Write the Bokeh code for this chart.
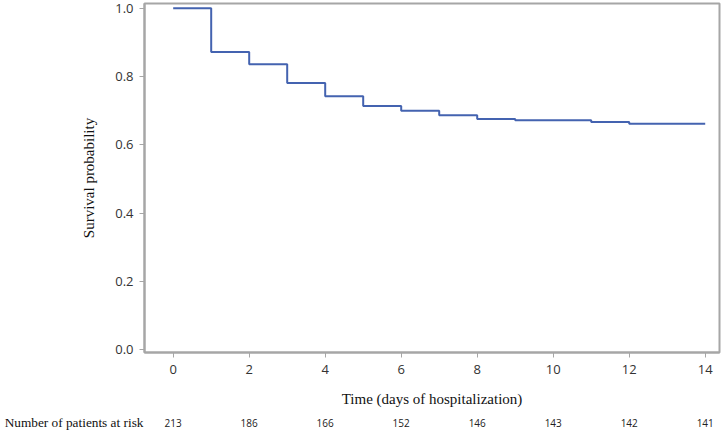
from bokeh.plotting import figure
from bokeh.models import Range1d, FixedTicker
from bokeh.layouts import column
from bokeh.core.properties import value
from bokeh.embed import file_html
from bokeh.resources import INLINE

# Kaplan-Meier step data
days = [0, 1, 2, 3, 4, 5, 6, 7, 8, 9, 11, 12, 14]
survival = [1.0, 0.872, 0.836, 0.781, 0.742, 0.714, 0.700, 0.687, 0.676, 0.672, 0.667, 0.662, 0.662]

# Number at risk table
risk_days = [0, 2, 4, 6, 8, 10, 12, 14]
at_risk = ["213", "186", "166", "152", "146", "143", "142", "141"]
risk_title = "Number of patients at risk"

x_ticks = [0, 2, 4, 6, 8, 10, 12, 14]
y_ticks = [0.0, 0.2, 0.4, 0.6, 0.8, 1.0]

AX = "#a6a6a6"
TXT = "#333333"

xr = Range1d(-0.755, 14.376)

p = figure(width=722, height=414, output_backend="svg", toolbar_location=None,
           x_range=xr, y_range=Range1d(-0.0075, 1.0137),
           min_border_left=144, min_border_right=3, min_border_top=3, min_border_bottom=62)

p.step(days, survival, mode="after", line_color="#4463b0", line_width=2)

p.xgrid.visible = False
p.ygrid.visible = False
p.outline_line_color = AX
p.outline_line_width = 2

for ax in (p.xaxis[0], p.yaxis[0]):
    ax.axis_line_color = AX
    ax.axis_line_width = 2
    ax.major_tick_line_color = AX
    ax.major_tick_line_width = 1
    ax.major_tick_in = 0
    ax.major_tick_out = 5
    ax.minor_tick_line_color = None
    ax.major_label_text_font = "Open Sans"
    ax.major_label_text_font_size = "13px"
    ax.major_label_text_color = TXT
    ax.axis_label_text_font = "Liberation Serif"
    ax.axis_label_text_font_size = "15px"
    ax.axis_label_text_font_style = "normal"
    ax.axis_label_text_color = "#111111"

p.xaxis[0].ticker = FixedTicker(ticks=x_ticks)
p.yaxis[0].ticker = FixedTicker(ticks=y_ticks)
p.yaxis[0].major_label_overrides = {t: f"{t:.1f}" for t in y_ticks}
p.xaxis[0].major_label_standoff = 7
p.yaxis[0].major_label_standoff = 6
p.xaxis[0].axis_label = "Time (days of hospitalization)"
p.yaxis[0].axis_label = "Survival probability"
p.xaxis[0].axis_label_standoff = 14
p.yaxis[0].axis_label_standoff = 15

# Risk table row
t = figure(width=722, height=16, output_backend="svg", toolbar_location=None,
           x_range=xr, y_range=Range1d(0, 1),
           min_border_left=144, min_border_right=3, min_border_top=0, min_border_bottom=0)
t.outline_line_color = None
t.xgrid.visible = False
t.ygrid.visible = False
t.xaxis.visible = False
ya = t.yaxis[0]
ya.ticker = FixedTicker(ticks=[0.5])
ya.major_label_overrides = {0.5: risk_title}
ya.axis_line_color = None
ya.major_tick_line_color = None
ya.minor_tick_line_color = None
ya.major_tick_out = 0
ya.major_tick_in = 0
ya.major_label_standoff = 1
ya.major_label_text_font = "Liberation Serif"
ya.major_label_text_font_size = "13.3px"
ya.major_label_text_color = "#111111"

t.text(x=risk_days, y=[0.5] * len(risk_days), text=at_risk,
       text_font=value("Open Sans"), text_font_size="10px", text_color="#222222",
       text_align="center", text_baseline="middle")

layout = column(p, t, spacing=0)
open("out.html", "w").write(file_html(layout, INLINE))
